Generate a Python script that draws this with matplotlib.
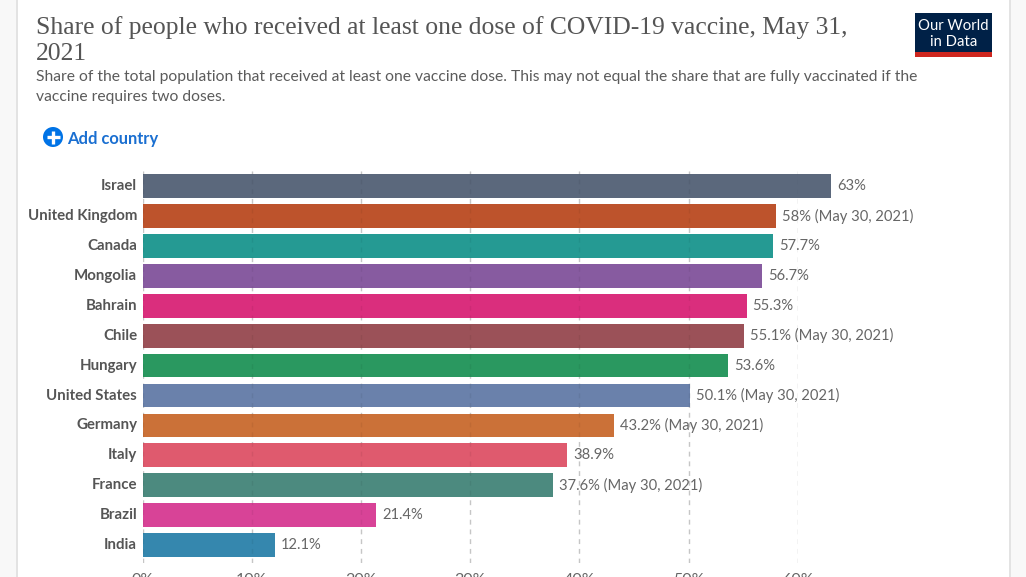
#! /usr/bin/env python3

import matplotlib.pyplot as plt
from matplotlib.patches import Rectangle, Circle

plt.rcParams['font.family'] = ['Lato', 'DejaVu Sans']

countries = ['Israel', 'United Kingdom', 'Canada', 'Mongolia', 'Bahrain', 'Chile', 'Hungary',
             'United States', 'Germany', 'Italy', 'France', 'Brazil', 'India']
shares = [63, 58, 57.7, 56.7, 55.3, 55.1, 53.6, 50.1, 43.2, 38.9, 37.6, 21.4, 12.1]
value_labels = ['63%', '58% (May 30, 2021)', '57.7%', '56.7%', '55.3%', '55.1% (May 30, 2021)', '53.6%',
                '50.1% (May 30, 2021)', '43.2% (May 30, 2021)', '38.9%', '37.6% (May 30, 2021)',
                '21.4%', '12.1%']
colors = ['#5b687c', '#bd532c', '#259a93', '#875ba0', '#da2e7d', '#9b5158', '#2a9860',
          '#6a81ab', '#cb7138', '#df5a6e', '#4c8a7f', '#d84397', '#3587ae']
ticks = [0, 10, 20, 30, 40, 50, 60]

W, H = 1026, 577
fig = plt.figure(figsize=(W / 100, H / 100), dpi=100, facecolor='white')

# page background either side of the card
bg = fig.add_axes([0, 0, 1, 1], zorder=0)
bg.set_xlim(0, W)
bg.set_ylim(H, 0)
bg.axis('off')
bg.add_patch(Rectangle((0, 0), 16, H, color='#f8f8f8', lw=0))
bg.add_patch(Rectangle((16, 0), 1.5, H, color='#e3e3e3', lw=0))
bg.add_patch(Rectangle((1010, 0), 16, H, color='#f8f8f8', lw=0))
bg.add_patch(Rectangle((1009, 0), 1.5, H, color='#e3e3e3', lw=0))

# logo
bg.add_patch(Rectangle((915, 13), 77, 39, color='#002147', lw=0))
bg.add_patch(Rectangle((915, 52), 77, 5, color='#ce261e', lw=0))
bg.text(953.5, 26.5, 'Our World', color='white', fontsize=10.75, ha='center', va='center')
bg.text(953.5, 42.5, 'in Data', color='white', fontsize=10.75, ha='center', va='center')

# header
bg.text(36, 28, 'Share of people who received at least one dose of COVID-19 vaccine, May 31,',
        family='Liberation Serif', fontsize=18.43, color='#555555', va='center')
bg.text(36, 54, '2021', family='Liberation Serif', fontsize=18.43, color='#555555', va='center')
bg.text(36, 77.5, 'Share of the total population that received at least one vaccine dose. '
        'This may not equal the share that are fully vaccinated if the',
        fontsize=11.25, color='#5b5b5b', va='center')
bg.text(36, 96.5, 'vaccine requires two doses.', fontsize=11.25, color='#5b5b5b', va='center')

# add country button
bg.add_patch(Circle((53, 137), 10, color='#0073e6', lw=0))
bg.plot([46.5, 59.5], [137, 137], color='white', lw=2.4, solid_capstyle='butt')
bg.plot([53, 53], [130.5, 143.5], color='white', lw=2.4, solid_capstyle='butt')
bg.text(67, 139, 'Add country', color='#1a6fd1', fontsize=11.9, weight='bold', va='center')

# chart area, 0% at x=142.5 and 60% at x=798
top, bottom = 171, 563
ax = fig.add_axes([142.5 / W, 1 - bottom / H, (798 - 142.5) / W, (bottom - top) / H], zorder=1)
ax.patch.set_alpha(0)
ax.set_xlim(0, 60)
ypos = list(range(len(countries)))
ax.set_ylim(12 + (bottom - 545) / 29.9, -(186.3 - top) / 29.9)

ax.barh(ypos, shares, height=23.7 / 29.9, color=colors, edgecolor='none', zorder=2, clip_on=False)
ax.set_yticks(ypos)
ax.set_yticklabels([])
ax.set_xticks(ticks)
ax.set_xticklabels([f'{t}%' for t in ticks], fontsize=11.5, color='#666666')
ax.tick_params(length=0)
ax.tick_params(axis='x', pad=7)
for s in ax.spines.values():
    s.set_visible(False)
for t in ticks:
    ax.axvline(t, color='#d3d3d3', lw=1, ls=(0, (3.5, 3.5)), zorder=1)
    ax.axvline(t, color='#000000', alpha=0.06, lw=1, ls=(0, (3.5, 3.5)), zorder=3)

for y, name, v, lab in zip(ypos, countries, shares, value_labels):
    ax.text(-0.5, y, name, fontsize=10.8, weight='bold', color='#555555', va='center', ha='right')
    ax.text(v + 0.55, y, lab, fontsize=10.65, color='#666666', va='center', ha='left', zorder=4)

fig.savefig('out.png', dpi=100)
